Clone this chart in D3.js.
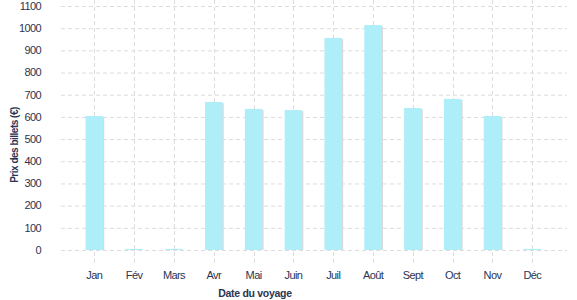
<!DOCTYPE html>
<html><head><meta charset="utf-8">
<script src="https://cdn.jsdelivr.net/npm/d3@7"></script>
<style>
body{margin:0;background:#fff;}
text{font-family:"Liberation Sans",Arial,sans-serif;fill:#2b3452;}
</style></head><body>
<svg id="c" width="577" height="300"></svg>
<script>
const months = ["Jan","Fév","Mars","Avr","Mai","Juin","Juil","Août","Sept","Oct","Nov","Déc"];
const prices = [604, 5, 5, 667, 636, 631, 956, 1014, 640, 681, 604, 5];
const yTicks = [0,100,200,300,400,500,600,700,800,900,1000,1100];

const svg = d3.select("#c");
const x = d3.scaleBand().domain(months).range([74.4, 552.2]).paddingInner(0.56).paddingOuter(0.28);
const y = d3.scaleLinear().domain([0,1100]).range([250, 6]);
const gridLeft = 61, gridRight = 567;

// horizontal grid
svg.append("g").selectAll("line").data(yTicks).join("line")
  .attr("x1", gridLeft).attr("x2", gridRight)
  .attr("y1", d=>y(d)+0.5).attr("y2", d=>y(d)+0.5)
  .attr("stroke","#dcdcdc").attr("stroke-dasharray","4,3");
// vertical grid
svg.append("g").selectAll("line").data(months).join("line")
  .attr("x1", d=>Math.round(x(d)+x.bandwidth()/2)+0.5).attr("x2", d=>Math.round(x(d)+x.bandwidth()/2)+0.5)
  .attr("y1", 0).attr("y2", 263)
  .attr("stroke","#dcdcdc").attr("stroke-dasharray","4,3");

// bar shadows
svg.append("g").selectAll("rect").data(months).join("rect")
  .attr("x", d=>x(d)+1.2).attr("y", (d,i)=>y(prices[i])+1.2)
  .attr("width", x.bandwidth()).attr("height", (d,i)=>Math.max(0, y(0)-y(prices[i])-1.2))
  .attr("fill","#d9d9d9");
// bars
svg.append("g").selectAll("rect").data(months).join("rect")
  .attr("x", d=>x(d)).attr("y", (d,i)=>y(prices[i]))
  .attr("width", x.bandwidth()).attr("height", (d,i)=>y(0)-y(prices[i]))
  .attr("fill","#aeeef8");

// y tick labels
svg.append("g").selectAll("text").data(yTicks).join("text")
  .attr("x", 41).attr("y", d=>y(d)).attr("dy","0.35em")
  .attr("text-anchor","end").attr("font-size",11).attr("letter-spacing","-0.6")
  .text(d=>d);
// x tick labels
svg.append("g").selectAll("text").data(months).join("text")
  .attr("x", d=>x(d)+x.bandwidth()/2).attr("y", 279)
  .attr("text-anchor","middle").attr("font-size",11).attr("letter-spacing","-0.6")
  .text(d=>d);

// axis titles
svg.append("text").attr("x",255).attr("y",297).attr("text-anchor","middle")
  .attr("font-size",10.5).attr("font-weight","bold").attr("letter-spacing","-0.3")
  .text("Date du voyage");
svg.append("text").attr("transform","translate(17.5,145) rotate(-90)").attr("text-anchor","middle")
  .attr("font-size",10).attr("font-weight","bold").attr("letter-spacing","-0.5")
  .text("Prix des billets (€)");
</script></body></html>
